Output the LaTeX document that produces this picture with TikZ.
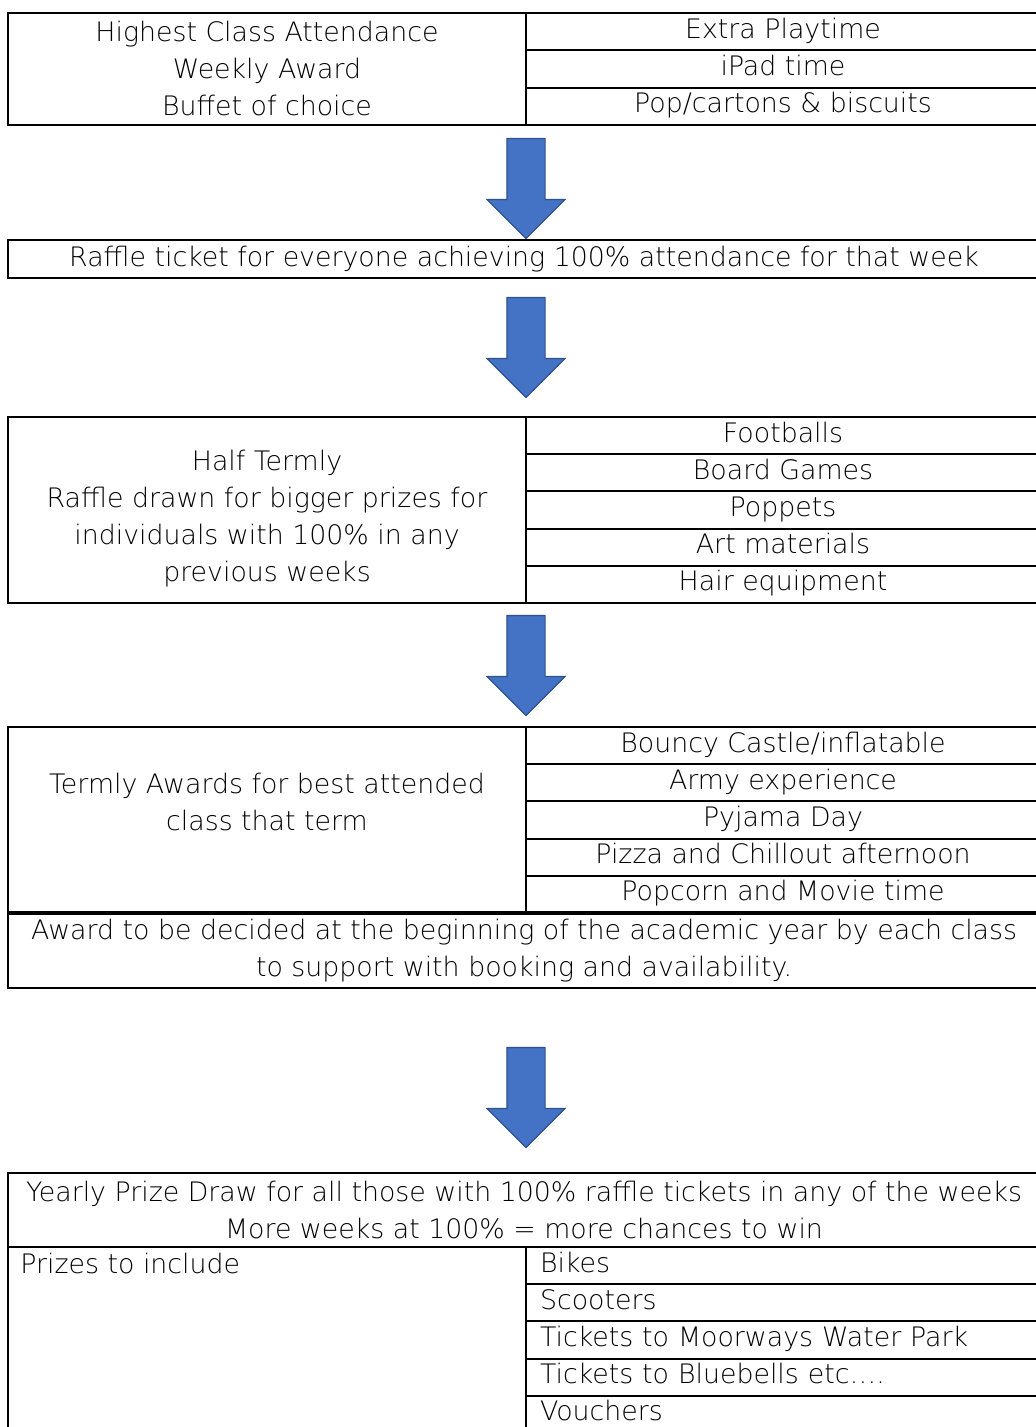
\documentclass[tikz,border=0pt]{standalone}
\usepackage{fontspec}
\IfFontExistsTF{DejaVu Sans ExtraLight}{\setmainfont{DejaVu Sans ExtraLight}}{\setmainfont{DejaVu Sans}}
\usepackage{tikz}
\usetikzlibrary{shapes.arrows,positioning}

\definecolor{arrowblue}{HTML}{4472C4}
\definecolor{arrowedge}{HTML}{2F528F}

\tikzset{
  every node/.style={font=\fontsize{13.4}{18.5}\selectfont},
  cell/.style={draw, line width=1pt, inner sep=0pt, outer sep=0pt, align=center},
  leftcell/.style={cell, minimum width=259pt},
  rightcell/.style={cell, minimum width=257pt, text height=9.5pt, text depth=3pt},
  widecell/.style={cell, minimum width=516pt},
  listcell/.style={cell, text width=243pt, inner xsep=7pt, align=left, text height=9.5pt, text depth=3pt},
  downarrow/.style={single arrow, draw=arrowedge, fill=arrowblue, line width=0.6pt,
    shape border rotate=270, inner sep=9.25pt, single arrow head extend=10pt,
    single arrow head indent=0pt, minimum height=50pt}
}

\begin{document}
\begin{tikzpicture}[x=0.5pt, y=-0.5pt]
  \useasboundingbox (0,0) rectangle (1035,1427);

  % weekly
  \node[leftcell, minimum height=56pt] (weekly) at (267,69)
    {Highest Class Attendance\\Weekly Award\\Buffet of choice};
  \node[rightcell, minimum height=56pt/3, anchor=north west] (playtime) at (weekly.north east) {Extra Playtime};
  \node[rightcell, minimum height=56pt/3, below=0pt of playtime] (ipad) {iPad time};
  \node[rightcell, minimum height=56pt/3, below=0pt of ipad] (biscuits) {Pop/cartons \& biscuits};

  \node[downarrow] (arr1) at (526,179) {};

  \node[widecell, minimum height=19pt] (ticket) at (524,259)
    {Raffle ticket for everyone achieving 100\% attendance for that week};

  \node[downarrow] (arr2) at (526,338) {};

  % half termly
  \node[leftcell, minimum height=93pt] (halfterm) at (267,510)
    {~\\Half Termly\\Raffle drawn for bigger prizes for\\individuals with 100\% in any\\previous weeks};
  \node[rightcell, minimum height=18.6pt, anchor=north west] (footballs) at (halfterm.north east) {Footballs};
  \node[rightcell, minimum height=18.6pt, below=0pt of footballs] (games) {Board Games};
  \node[rightcell, minimum height=18.6pt, below=0pt of games] (poppets) {Poppets};
  \node[rightcell, minimum height=18.6pt, below=0pt of poppets] (art) {Art materials};
  \node[rightcell, minimum height=18.6pt, below=0pt of art] (hair) {Hair equipment};

  \node[downarrow] (arr3) at (526,656) {};

  % termly
  \node[leftcell, minimum height=93pt] (termly) at (267,820)
    {Termly Awards for best attended\\class that term\\~};
  \node[rightcell, minimum height=18.6pt, anchor=north west] (castle) at (termly.north east) {Bouncy Castle/inflatable};
  \node[rightcell, minimum height=18.6pt, below=0pt of castle] (army) {Army experience};
  \node[rightcell, minimum height=18.6pt, below=0pt of army] (pyjama) {Pyjama Day};
  \node[rightcell, minimum height=18.6pt, below=0pt of pyjama] (pizza) {Pizza and Chillout afternoon};
  \node[rightcell, minimum height=18.6pt, below=0pt of pizza] (movie) {Popcorn and Movie time};
  \node[widecell, minimum height=37.5pt, anchor=north west] (booking) at (termly.south west)
    {Award to be decided at the beginning of the academic year by each class\\to support with booking and availability.};
  \draw[line width=2pt] (booking.north west) -- (booking.north east);

  \node[downarrow] (arr4) at (526,1088) {};

  % yearly
  \node[widecell, minimum height=37pt] (yearly) at (524,1210)
    {Yearly Prize Draw for all those with 100\% raffle tickets in any of the weeks\\More weeks at 100\% = more chances to win};
  \node[leftcell, minimum height=100pt, anchor=north west,
    label={[anchor=north west, inner xsep=6pt, inner ysep=3pt]north west:Prizes to include}] (prizes) at (yearly.south west) {};
  \node[listcell, minimum height=18.6pt, anchor=north west] (bikes) at (prizes.north east) {Bikes};
  \node[listcell, minimum height=18.6pt, below=0pt of bikes] (scooters) {Scooters};
  \node[listcell, minimum height=18.6pt, below=0pt of scooters] (moorways) {Tickets to Moorways Water Park};
  \node[listcell, minimum height=18.6pt, below=0pt of moorways] (bluebells) {Tickets to Bluebells etc….};
  \node[listcell, minimum height=18.6pt, below=0pt of bluebells] (vouchers) {Vouchers};
\end{tikzpicture}
\end{document}
